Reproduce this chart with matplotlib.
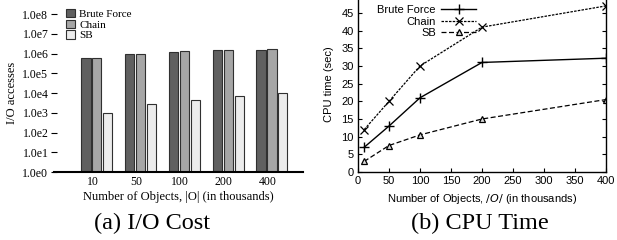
import matplotlib
matplotlib.use("Agg")
import matplotlib.pyplot as plt
import numpy as np

# ── Data ─────────────────────────────────────────────────────────────────────
objects = [10, 50, 100, 200, 400]          # |O| in thousands
object_labels = ["10", "50", "100", "200", "400"]

io_brute = [6.0e5, 9.0e5, 1.2e6, 1.45e6, 1.55e6]
io_chain = [6.2e5, 9.5e5, 1.3e6, 1.55e6, 1.6e6]
io_sb = [950, 2900, 4600, 7000, 10000]

cpu_brute = [7.0, 13.0, 21.0, 31.0, 32.2]
cpu_chain = [12.0, 20.0, 30.0, 41.0, 47.0]
cpu_sb = [3.0, 7.5, 10.5, 15.0, 20.5]

SERIF = "Liberation Serif"
SANS = "Liberation Sans"

fig = plt.figure(figsize=(6.17, 2.4), dpi=100)

# ── (a) I/O cost: grouped bars, log scale ────────────────────────────────────
ax1 = fig.add_axes([0.0875, 0.2833, 0.4036, 0.6583])
x = np.arange(len(objects))
w = 0.21
bar_kw = dict(width=w, edgecolor="#303030", linewidth=0.8, bottom=1)
ax1.bar(x - 0.25, io_brute, color="#606060", label="Brute Force", **bar_kw)
ax1.bar(x, io_chain, color="#a6a6a6", label="Chain", **bar_kw)
ax1.bar(x + 0.25, io_sb, color="#ececec", label="SB", **bar_kw)
ax1.set_yscale("log")
ax1.set_ylim(1, 1e8)
ax1.set_xlim(-0.98, 4.71)
ax1.set_yticks([10.0 ** k for k in range(9)])
ax1.set_yticklabels([f"1.0e{k}" for k in range(9)], family=SERIF, fontsize=8.5)
ax1.minorticks_off()
ax1.set_xticks(x - 0.1)
ax1.set_xticklabels(object_labels, family=SERIF, fontsize=8.5)
ax1.tick_params(axis="x", length=0, pad=3)
ax1.tick_params(axis="y", direction="inout", length=4, width=0.8, pad=2)
for s in ("top", "right", "left"):
    ax1.spines[s].set_visible(False)
ax1.spines["bottom"].set_linewidth(1.5)
ax1.set_ylabel("I/O accesses", family=SERIF, fontsize=9, labelpad=3)
ax1.set_xlabel("Number of Objects, |O| (in thousands)", family=SERIF,
               fontsize=9, labelpad=2)
ax1.legend(loc="upper left", bbox_to_anchor=(0.03, 1.06), frameon=False,
           prop={"family": SERIF, "size": 8}, handlelength=0.8,
           handleheight=0.8, handletextpad=0.4, labelspacing=0.05,
           borderaxespad=0)

# ── (b) CPU time: lines ──────────────────────────────────────────────────────
ax2 = fig.add_axes([0.5802, 0.2833, 0.4020, 0.7363])
ax2.plot(objects, cpu_brute, color="black", lw=1.0, marker="+", ms=7,
         mew=1.0, label="Brute Force")
ax2.plot(objects, cpu_chain, color="black", lw=0.9, ls=(0, (2, 1)),
         marker="x", ms=6, mew=0.9, label="Chain")
ax2.plot(objects, cpu_sb, color="black", lw=0.9, ls=(0, (4, 2)),
         marker="^", ms=5, mfc="#dddddd", mec="black", mew=0.9, label="SB")
ax2.set_xlim(0, 400)
ax2.set_ylim(0, 50)
ax2.set_xticks(np.arange(0, 401, 50))
ax2.set_yticks(np.arange(0, 51, 5))
for lab in ax2.get_xticklabels() + ax2.get_yticklabels():
    lab.set_family(SANS)
    lab.set_fontsize(8)
ax2.tick_params(direction="in", length=3, width=0.8, top=True, right=True,
                pad=3)
for s in ax2.spines.values():
    s.set_linewidth(1.0)
ax2.set_ylabel("CPU time (sec)", family=SANS, fontsize=8, labelpad=5)
ax2.set_xlabel("Number of Objects, $\\mathit{/O/}$ (in thousands)",
               family=SANS, fontsize=8, labelpad=4)
ax2.legend(loc="upper left", bbox_to_anchor=(0.06, 0.97), frameon=False,
           prop={"family": SANS, "size": 8}, markerfirst=False,
           handlelength=3.1, handletextpad=0.5, labelspacing=0.15,
           borderaxespad=0)

# ── Captions ─────────────────────────────────────────────────────────────────
fig.text(0.247, 0.067, "(a) I/O Cost", family=SERIF, fontsize=17.5,
         ha="center", va="center")
fig.text(0.778, 0.067, "(b) CPU Time", family=SERIF, fontsize=17.5,
         ha="center", va="center")

fig.savefig("out.png", dpi=100)
